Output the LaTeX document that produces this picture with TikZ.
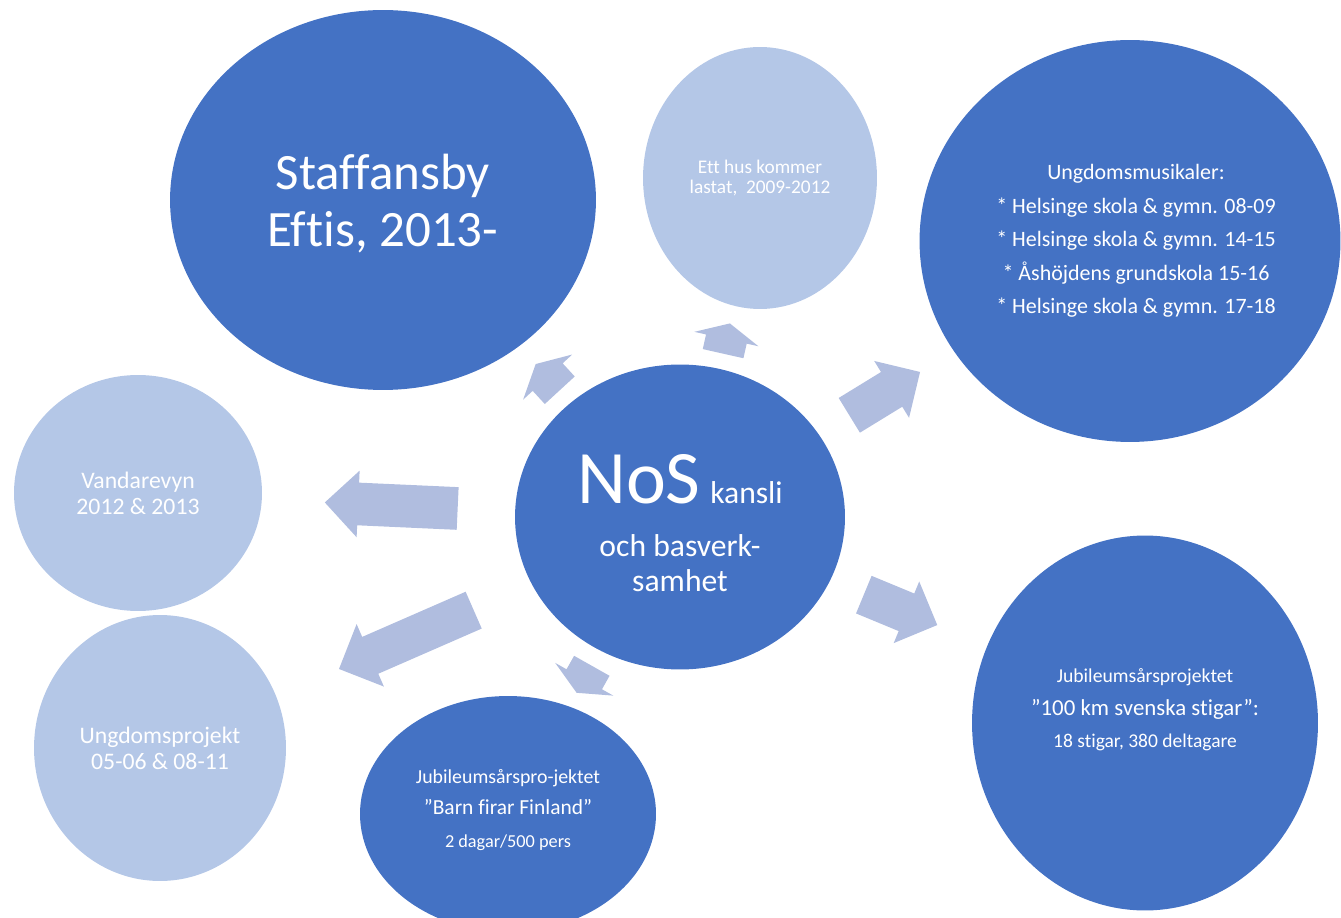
\documentclass[tikz,border=0pt]{standalone}
\usepackage{fontspec}
\setmainfont{Carlito}[Ligatures=NoCommon]
\usepackage{tikz}
\usetikzlibrary{shapes.geometric,shapes.arrows}

\definecolor{dblue}{HTML}{4472C4}
\definecolor{lblue}{HTML}{B4C7E7}
\definecolor{arrblue}{RGB}{176,189,223}

\begin{document}
\begin{tikzpicture}[
    x=0.02cm, y=-0.02cm,
    dark/.style={ellipse, fill=dblue, text=white, inner sep=0pt, align=center},
    light/.style={ellipse, fill=lblue, text=white, inner sep=0pt, align=center},
    txt/.style={text=white, align=center, inner sep=0pt},
    arr/.style={single arrow, fill=arrblue, inner xsep=0pt, inner ysep=0.4cm,
        minimum width=0pt, single arrow head extend=0.26cm,
        single arrow tip angle=90, anchor=tail, minimum height=#1}
]

\useasboundingbox (0,0) rectangle (1341,918);

% circles
\node[dark, minimum width=8.52cm, minimum height=7.6cm] (staff) at (383,200) {};
\node[txt, font=\fontsize{29}{32.3}\selectfont] (stafftxt) at ([yshift=-0.07cm]staff.center) {Staffansby\\Eftis, 2013-};
\node[light, minimum width=4.68cm, minimum height=5.24cm, font=\fontsize{11}{11.9}\selectfont] (hus) at (760,178) {Ett hus kommer\\lastat,\ \ 2009-2012};
\node[dark, minimum width=8.42cm, minimum height=8.04cm] (musik) at (1130,241) {};
\node[txt, font=\fontsize{12.5}{19}\selectfont] (musiktxt) at ([xshift=0.12cm]musik.center) {Ungdomsmusikaler:\\* Helsinge skola \& gymn. 08-09\\* Helsinge skola \& gymn. 14-15\\* Åshöjdens grundskola 15-16\\* Helsinge skola \& gymn. 17-18};
\node[light, minimum width=4.96cm, minimum height=4.72cm, font=\fontsize{13.5}{14.7}\selectfont] (vandare) at (138,493) {Vandarevyn\\2012 \& 2013};
\node[dark, minimum width=6.6cm, minimum height=6.1cm] (nos) at (680,517) {};
\node[txt, font=\fontsize{18}{19.8}\selectfont] (nostxt) at ([yshift=-0.12cm]nos.center) {{\fontsize{43}{19.8}\selectfont NoS}\hspace{5.5pt}kansli\\[10.5pt]och basverk-\\samhet};
\node[light, minimum width=5.04cm, minimum height=5.32cm, font=\fontsize{13.5}{14.7}\selectfont] (ungproj) at (160,748) {Ungdomsprojekt\\05-06 \& 08-11};
\node[dark, minimum width=5.92cm, minimum height=4.72cm] (barn) at (508,814) {};
\node[txt, font=\fontsize{11.3}{17.6}\selectfont] (barntxt) at ([yshift=0.08cm]barn.center) {Jubileumsårspro-jektet\\{\fontsize{12.2}{17.6}\selectfont ”Barn firar Finland”}\\[1pt]{\fontsize{10.4}{17.6}\selectfont 2 dagar/500 pers}};
\node[dark, minimum width=6.92cm, minimum height=7.5cm] (jub100) at (1145,723) {};
\node[txt, font=\fontsize{11.2}{18.4}\selectfont] (jub100txt) at ([yshift=0.26cm]jub100.center) {Jubileumsårsprojektet\\{\fontsize{13}{18.4}\selectfont ”100 km svenska stigar”:}\\{\fontsize{11.1}{18.4}\selectfont 18 stigar, 380 deltagare}};

% arrows out of the centre
\node[arr=0.712cm, rotate=132.6, single arrow tip angle=124] (toStaff) at (560,390.5) {};
\node[arr=0.62cm, rotate=77.3, inner ysep=0.41cm, single arrow head extend=0.24cm, single arrow tip angle=128] (toHus) at (723,354) {};
\node[arr=2.66cm, rotate=177.4, inner ysep=0.42cm, single arrow head extend=0.24cm] (toVandare) at (458,508.5) {};
\node[arr=2.94cm, rotate=203.6, inner ysep=0.395cm, single arrow head extend=0.28cm] (toUngproj) at (474,610) {};
\node[arr=0.62cm, rotate=240.6, single arrow tip angle=130] (toBarn) at (592,665.5) {};
\node[arr=1.66cm, rotate=31.5] (toMusik) at (849,415.5) {};
\node[arr=1.59cm, rotate=-22.5] (toJub) at (863.5,594.5) {};

\end{tikzpicture}
\end{document}
